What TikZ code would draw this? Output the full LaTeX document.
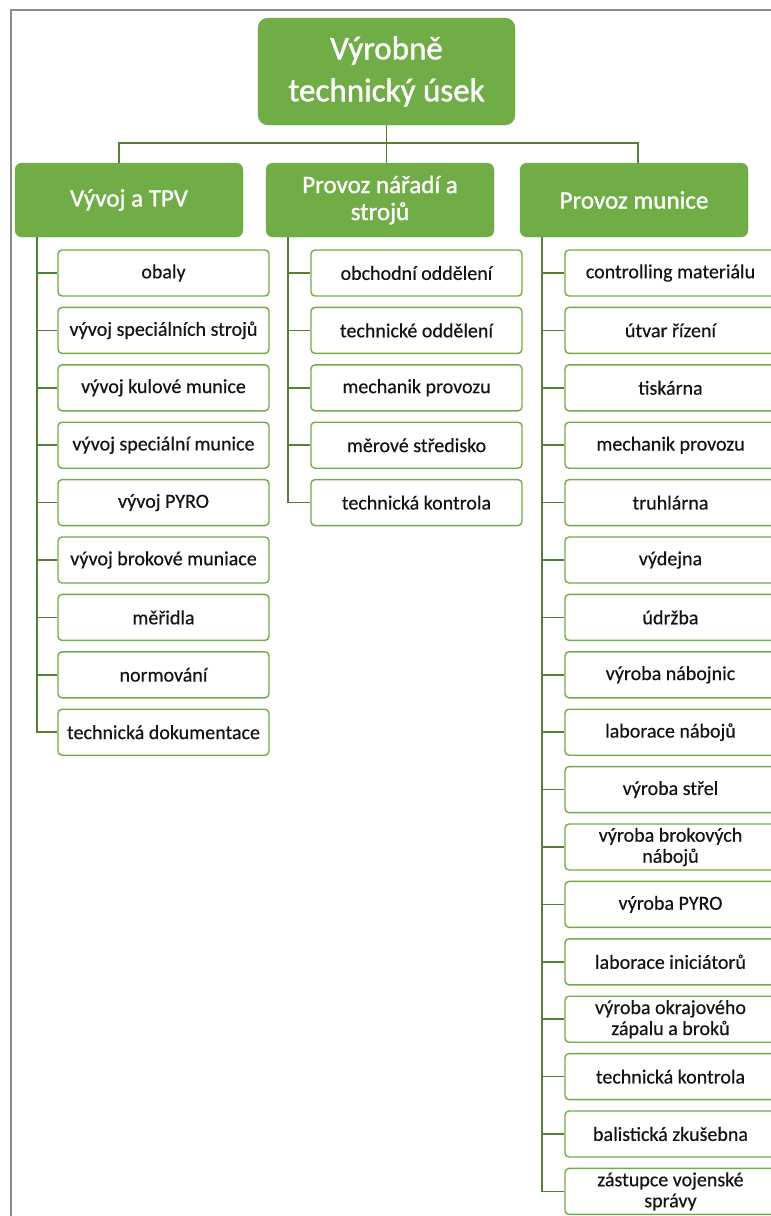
\documentclass[tikz,border=0pt]{standalone}
\usepackage{fontspec}
\setmainfont{Carlito}
\newfontfamily\headfont[FakeBold=1.2]{Carlito}
\newfontfamily\itemfont[FakeBold=0.4]{Carlito}
\definecolor{gfill}{HTML}{70AD47}
\definecolor{gline}{HTML}{548235}
\definecolor{framec}{HTML}{8C8C8C}
\definecolor{txt}{HTML}{141414}
\begin{document}
\begin{tikzpicture}[x=1pt,y=-1pt,
  topbox/.style={draw=gfill, fill=gfill, rounded corners=10pt, minimum width=257pt, minimum height=107pt, text=white, font=\headfont\fontsize{33}{42}\selectfont, align=center, inner sep=0pt},
  headbox/.style={draw=gfill, fill=gfill, rounded corners=7pt, minimum width=228pt, minimum height=74pt, text=white, font=\headfont\fontsize{25}{27}\selectfont, align=center, inner sep=0pt},
  itembox/.style={draw=gfill, line width=1.4pt, fill=white, rounded corners=4pt, minimum width=211pt, minimum height=46pt, text=txt, font=\itemfont\fontsize{20}{21}\selectfont, align=center, inner sep=0pt},
  conn/.style={draw=gline, line width=1.5pt},
]
\useasboundingbox (0,0) rectangle (771,1216);
\clip (0,0) rectangle (771,1216);
\fill[white] (0,0) rectangle (771,1216);
\draw[framec, line width=2pt] (11,1220) -- (11,10) -- (775,10);

\node[topbox] (root) at (386.5,71.5) {Výrobně\\technický úsek};
\node[headbox] (ha) at (129,200) {Vývoj a TPV};
\node[headbox] (hb) at (380,200) {Provoz nářadí a\\strojů};
\node[headbox] (hc) at (634,200) {Provoz munice};

\draw[conn] (root.south) -- (root.south |- hb.north);
\draw[conn] ([xshift=-10pt]ha.north) -- ++(0,-20) -| ([xshift=4pt]hc.north);

\coordinate (sa) at (37,237);
\coordinate (sb) at (288,237);
\coordinate (sc) at (542,237);

\foreach \t [count=\i] in {obaly, vývoj speciálních strojů, vývoj kulové munice, vývoj speciální munice, vývoj PYRO, vývoj brokové muniace, měřidla, normování, technická dokumentace}{
  \node[itembox] (a\i) at (163.5,{273+57.4*(\i-1)}) {\t};
  \draw[conn] (sa |- a\i.west) -- (a\i.west);
}
\draw[conn] (sa) |- (a9.west);

\foreach \t [count=\i] in {obchodní oddělení, technické oddělení, mechanik provozu, měrové středisko, technická kontrola}{
  \node[itembox] (b\i) at (416.5,{273+57.4*(\i-1)}) {\t};
  \draw[conn] (sb |- b\i.west) -- (b\i.west);
}
\draw[conn] (sb) |- (b5.west);

\foreach \t [count=\i] in {controlling materiálu, útvar řízení, tiskárna, mechanik provozu, truhlárna, výdejna, údržba, výroba nábojnic, laborace nábojů, výroba střel, {výroba brokových\\nábojů}, výroba PYRO, laborace iniciátorů, {výroba okrajového\\zápalu a broků}, technická kontrola, balistická zkušebna, {zástupce vojenské\\správy}}{
  \node[itembox] (c\i) at (670.5,{273+57.4*(\i-1)}) {\t};
  \draw[conn] (sc |- c\i.west) -- (c\i.west);
}
\draw[conn] (sc) |- (c17.west);
\end{tikzpicture}
\end{document}
